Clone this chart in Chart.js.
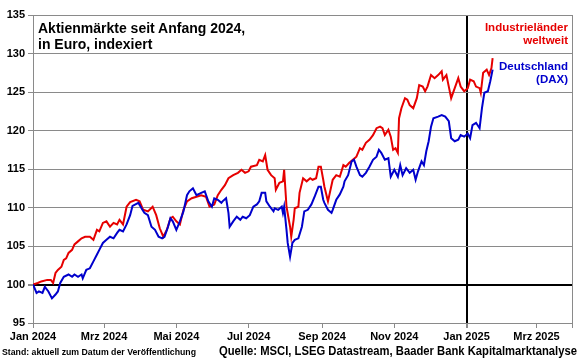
<!DOCTYPE html>
<html>
<head>
<meta charset="utf-8">
<script src="https://cdn.jsdelivr.net/npm/chart.js@4.4.1/dist/chart.umd.min.js"></script>
<style>
html,body{margin:0;padding:0;background:#fff;}
#wrap{position:relative;width:580px;height:359px;overflow:hidden;font-family:"Liberation Sans",Arial,sans-serif;}
canvas{position:absolute;left:0;top:0;}
.txt{position:absolute;font-weight:bold;white-space:nowrap;}
</style>
</head>
<body>
<div id="wrap">
<canvas id="c" width="580" height="359"></canvas>
<div class="txt" style="left:38px;top:20px;font-size:14px;line-height:16px;color:#000;">Aktienmärkte seit Anfang 2024,<br>in Euro, indexiert</div>
<div class="txt" style="right:12px;top:21px;font-size:11.5px;line-height:13.4px;color:#e60000;text-align:right;">Industrieländer<br>weltweit</div>
<div class="txt" style="right:12px;top:59.5px;font-size:11.5px;line-height:13px;color:#0000cc;text-align:right;">Deutschland<br>(DAX)</div>
<div class="txt fit" data-w="194" style="left:2px;top:346px;font-size:9.5px;line-height:11px;color:#000;transform-origin:left top;">Stand: aktuell zum Datum der Veröffentlichung</div>
<div class="txt fit" data-w="358" style="left:219px;top:344px;font-size:12px;line-height:14px;color:#000;transform-origin:left top;">Quelle: MSCI, LSEG Datastream, Baader Bank Kapitalmarktanalyse</div>
</div>
<script>
// x values: days since 1 Jan 2024
const redDays = [0,4,7,12,15,17,19,21,24,26,28,30,33,35,38,41,44,48,51,54,56,59,62,65,68,71,73,76,79,82,87,90,93,97,101,104,107,110,113,116,118,121,124,127,130,134,138,142,146,149,153,156,159,162,165,169,173,176,179,182,184,189,191,194,196,198,201,204,205,208,211,212,214,217,218,220,221,224,225,228,231,234,236,239,241,243,245,246,249,253,256,259,262,264,267,270,273,276,278,281,284,287,290,293,295,297,300,302,304,306,308,309,311,314,316,318,321,324,326,329,331,333,336,339,342,345,346,349,351,353,356,359,361,364,367,369,372,374,377,378,380,383,385,387,388];
const redVals = [100.0,100.2,100.4,100.6,100.6,100.2,101.5,101.9,102.3,103.2,103.4,104.1,104.5,105.2,105.6,106.0,106.2,106.2,105.8,107.1,106.9,108.0,108.2,107.5,108.0,107.8,108.4,107.8,110.1,110.7,111.0,110.8,109.7,109.5,110.1,109.0,107.3,106.2,107.1,108.6,108.8,108.2,107.8,109.7,110.8,111.2,111.4,111.6,111.4,110.1,110.4,111.6,112.3,112.9,113.8,114.2,114.5,114.9,114.5,114.7,115.3,115.5,116.2,116.0,116.8,114.9,114.2,113.8,112.3,113.2,113.4,114.9,110.1,107.5,106.2,108.4,109.9,110.1,111.9,113.8,113.4,113.8,113.6,113.8,115.3,115.3,113.6,112.7,110.8,113.6,114.2,114.0,115.5,115.3,115.8,116.2,116.6,117.7,117.5,118.4,118.8,119.4,120.3,120.5,120.3,119.4,120.1,119.2,117.5,117.7,117.1,121.6,122.9,124.2,124.0,123.3,122.9,124.2,125.9,125.7,125.1,125.7,127.2,126.8,127.2,127.7,126.6,127.2,125.7,124.2,125.5,126.8,125.7,125.1,125.5,126.6,126.4,125.7,125.5,124.9,127.5,127.9,127.2,128.1,129.4];
const blueDays = [0,3,5,8,10,13,16,19,21,23,26,30,33,35,38,41,42,45,48,51,54,56,59,62,65,68,71,73,76,79,82,84,89,92,94,97,100,103,106,109,111,114,116,118,121,124,127,130,132,135,138,142,145,148,151,153,156,159,160,163,165,166,169,172,175,177,180,183,186,189,191,193,196,197,200,203,204,207,210,211,212,214,215,217,219,221,224,227,229,232,235,238,241,243,245,246,249,252,253,256,259,262,263,266,269,271,273,276,278,281,284,287,290,292,294,297,300,302,305,308,310,312,315,318,321,323,325,328,330,332,334,336,338,342,345,348,351,353,356,359,361,364,367,369,371,374,377,379,381,384,386,388];
const blueVals = [100.0,98.9,99.1,98.9,99.7,99.1,98.2,98.7,99.1,100.2,101.0,101.3,101.0,101.3,101.0,101.3,100.8,101.9,102.1,103.0,103.9,104.5,105.4,105.8,106.2,106.0,106.7,107.1,106.9,107.8,109.0,110.2,110.6,109.8,109.3,109.0,107.5,107.1,106.2,106.0,106.2,107.5,108.6,108.2,107.1,108.2,109.5,111.6,112.1,112.5,111.6,111.9,112.1,110.8,110.1,111.2,111.0,110.6,110.8,111.2,109.3,107.5,108.2,108.8,108.4,108.8,108.6,109.0,110.1,110.4,110.8,111.9,111.9,110.8,110.1,109.5,109.9,109.7,110.1,109.3,110.1,107.1,105.4,103.6,105.4,105.8,106.0,107.5,109.5,109.7,110.4,111.5,112.7,112.7,111.0,110.6,109.7,109.3,109.7,111.0,111.7,112.7,113.4,114.2,116.0,116.2,115.3,114.2,114.0,114.5,115.3,116.2,116.6,117.5,117.1,116.2,116.4,114.0,114.9,114.0,115.5,114.2,115.1,114.5,114.9,113.6,114.7,116.0,115.5,117.3,118.6,120.5,121.6,121.8,122.0,121.8,121.2,119.0,118.6,118.8,119.4,119.2,119.6,119.0,120.7,121.0,120.3,122.9,124.9,125.1,126.4,127.9];
const tickDays = [0,60,121,182,244,305,366,425,455];
const tickLabels = ['Jan 2024','Mrz 2024','Mai 2024','Jul 2024','Sep 2024','Nov 2024','Jan 2025','Mrz 2025',''];
const xMin = 0, xMax = 455;
const yMin = 95, yMax = 135, yStep = 5;
const baseLevel = 100;
const markerDay = 366;

const RED = '#e60000', BLUE = '#0000cc', GRID = '#8a8a8a';
const FONT = '"Liberation Sans", Arial, sans-serif';

function pts(xs, ys){ return xs.map((d,i)=>({x:d, y:ys[i]})); }

new Chart(document.getElementById('c'), {
  type: 'line',
  data: {
    datasets: [
      {label:'Industrieländer weltweit', data: pts(redDays, redVals), borderColor: RED, borderWidth: 2, pointRadius: 0, tension: 0, order: 2},
      {label:'Deutschland (DAX)', data: pts(blueDays, blueVals), borderColor: BLUE, borderWidth: 2, pointRadius: 0, tension: 0, order: 1}
    ]
  },
  options: {
    responsive: false,
    animation: false,
    events: [],
    layout: {padding: {left: 0, right: 8, top: 15, bottom: 16}},
    plugins: {legend: {display: false}, tooltip: {enabled: false}},
    scales: {
      x: {
        type: 'linear', min: xMin, max: xMax,
        afterBuildTicks: (s) => { s.ticks = tickDays.map(v => ({value: v})); },
        afterFit: (s) => { s.height = 20; },
        ticks: {
          autoSkip: false, maxRotation: 0, minRotation: 0, padding: 2, color: '#000',
          font: {family: FONT, size: 11, weight: 'bold'},
          callback: (v) => { const i = tickDays.indexOf(v); return i >= 0 ? tickLabels[i] : ''; }
        },
        grid: {
          drawOnChartArea: true,
          color: (c) => c.tick && c.tick.value === markerDay ? '#000' : (c.tick && c.tick.value === xMax ? GRID : 'rgba(0,0,0,0)'),
          lineWidth: (c) => c.tick && c.tick.value === markerDay ? 2 : 1,
          tickColor: GRID, tickLength: 5
        },
        border: {color: GRID, width: 1}
      },
      y: {
        min: yMin, max: yMax,
        afterFit: (s) => { s.width = 33; },
        ticks: {stepSize: yStep, padding: 3, color: '#000', font: {family: FONT, size: 11, weight: 'bold'}},
        grid: {
          color: (c) => c.tick && c.tick.value === baseLevel ? '#000' : GRID,
          lineWidth: (c) => c.tick && c.tick.value === baseLevel ? 2 : 1,
          tickColor: GRID, tickLength: 5
        },
        border: {color: GRID, width: 1}
      }
    }
  }
});

document.querySelectorAll('.fit').forEach(el => {
  const w = parseFloat(el.dataset.w);
  const cur = el.getBoundingClientRect().width;
  if (cur > 0) el.style.transform = 'scaleX(' + (w / cur) + ')';
});
</script>
</body>
</html>
